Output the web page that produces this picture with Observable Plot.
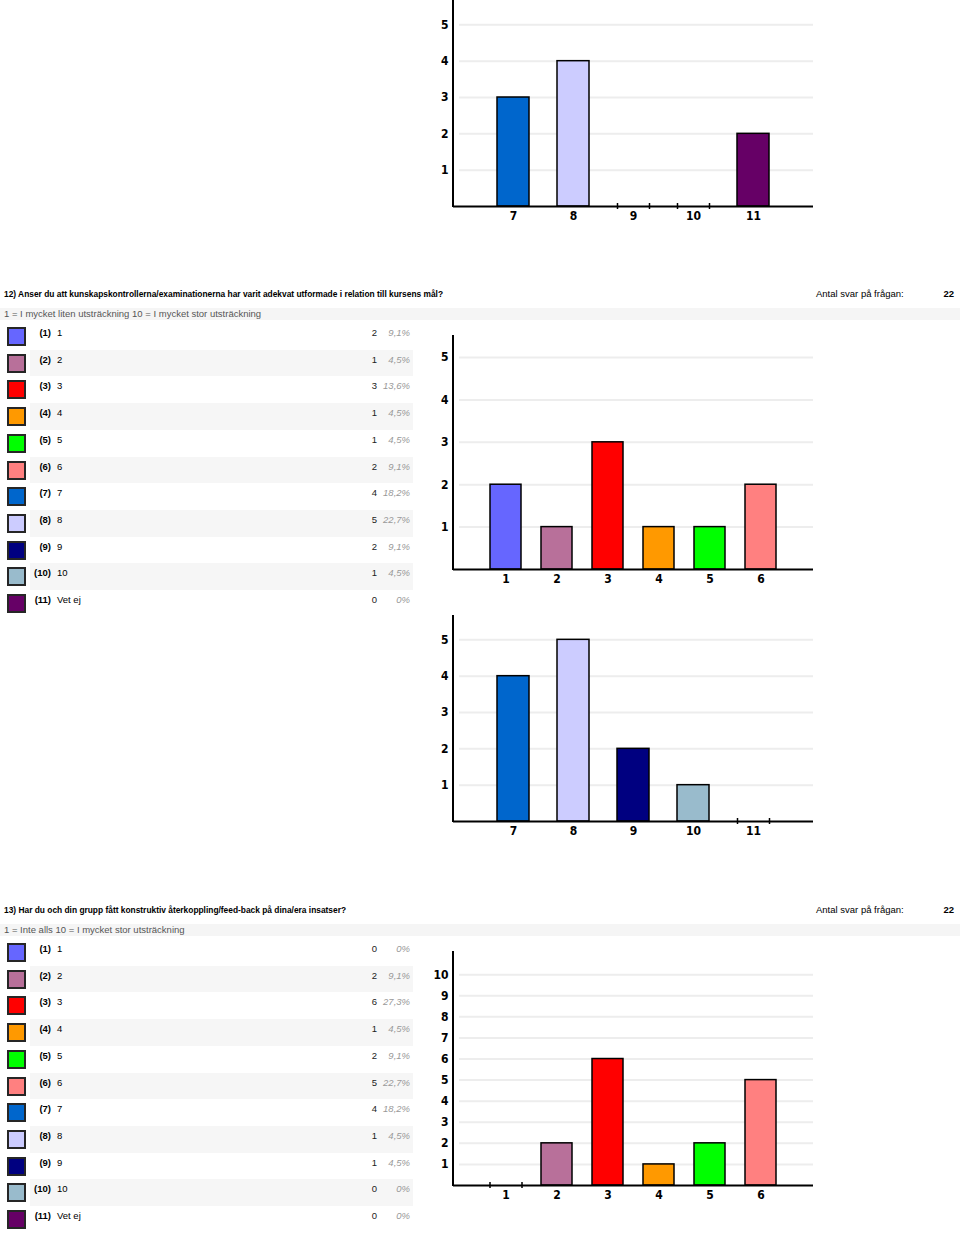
<!DOCTYPE html>
<html><head><meta charset="utf-8">
<script src="https://cdn.jsdelivr.net/npm/d3@7"></script>
<script src="https://cdn.jsdelivr.net/npm/@observablehq/plot@0.6"></script>
<style>
html,body{margin:0;padding:0;background:#fff}
body{width:960px;height:1235px;position:relative;overflow:hidden;font-family:"Liberation Sans",Arial,sans-serif;color:#000}
.a{position:absolute;white-space:nowrap;font-size:9.5px;line-height:12px;height:12px}
.b{font-weight:bold}
.h{font-size:8.4px}
.band{position:absolute}
.sw{position:absolute;width:19px;height:19px;box-sizing:border-box;border:2px solid #262626}
.chart{position:absolute;left:430px}
</style></head><body>
<script>
// ---- data ----
const optionColors = ["#6666ff","#b8709a","#ff0000","#ff9900","#00ff00","#ff8080","#0066cc","#ccccff","#000080","#99bbcc","#660066"];
const optionLabels = ["1","2","3","4","5","6","7","8","9","10","Vet ej"];
const chartCatsLow = ["1","2","3","4","5","6"];
const chartCatsHigh = ["7","8","9","10","11"];

// Q11 (only its second chart is visible at the top of the page)
const q11HighCounts = [3,4,0,0,2];

const q12Title = "12) Anser du att kunskapskontrollerna/examinationerna har varit adekvat utformade i relation till kursens mål?";
const q12Scale = "1 = I mycket liten utsträckning 10 = I mycket stor utsträckning";
const q12Counts = [2,1,3,1,1,2,4,5,2,1,0];
const q12Total = 22;

const q13Title = "13) Har du och din grupp fått konstruktiv återkoppling/feed-back på dina/era insatser?";
const q13Scale = "1 = Inte alls 10 = I mycket stor utsträckning";
const q13Counts = [0,2,6,1,2,5,4,1,1,0,0];
const q13Total = 22;

const answersLabel = "Antal svar på frågan:";

// ---- helpers ----
const fmtPct = (c, t) => c === 0 ? "0%" : (Math.round(c / t * 1000) / 10).toFixed(1).replace(".", ",") + "%";

function text(str, x, yc, opts = {}) {
  const d = document.createElement("div");
  d.className = "a" + (opts.bold ? " b" : "") + (opts.cls ? " " + opts.cls : "");
  d.textContent = str;
  d.style.top = (yc - 6) + "px";
  if (opts.right != null) { d.style.right = (960 - opts.right) + "px"; d.style.textAlign = "right"; }
  else d.style.left = x + "px";
  if (opts.color) d.style.color = opts.color;
  if (opts.italic) d.style.fontStyle = "italic";
  document.body.appendChild(d);
  return d;
}
function band(x, y, w, h, c) {
  const d = document.createElement("div");
  d.className = "band";
  Object.assign(d.style, {left: x + "px", top: y + "px", width: w + "px", height: h + "px", background: c});
  document.body.appendChild(d);
}

function leftAxisLine(index, scales, values, dims) {
  const ns = "http://www.w3.org/2000/svg";
  const l = document.createElementNS(ns, "line");
  const x = dims.marginLeft;
  l.setAttribute("x1", x); l.setAttribute("x2", x);
  l.setAttribute("y1", 0); l.setAttribute("y2", dims.height - dims.marginBottom + 1);
  l.setAttribute("stroke", "#000"); l.setAttribute("stroke-width", 2);
  return l;
}

function barChart({cats, counts, colors, ymax, ticks, height, marginBottom, padIn, padOut, top}) {
  const data = cats.map((c, i) => ({cat: c, v: counts[i], color: colors[i]}));
  const zeros = data.filter(d => d.v === 0);
  const svg = Plot.plot({
    width: 400, height, marginLeft: 23, marginRight: 17, marginTop: 0, marginBottom,
    style: {fontFamily: "'Liberation Sans Narrow','DejaVu Sans Condensed','Liberation Sans',sans-serif", fontWeight: "bold", fontSize: "12px", background: "transparent", overflow: "visible", color: "#000"},
    x: {domain: cats, paddingInner: padIn, paddingOuter: padOut, tickSize: 0, tickPadding: 5, label: null},
    y: {domain: [0, ymax], ticks, tickSize: 0, tickPadding: 5, label: null, tickFormat: d => String(d)},
    marks: [
      Plot.ruleY(ticks, {stroke: "#ededed", strokeWidth: 2, insetLeft: 6}),
      Plot.barY(data.filter(d => d.v > 0), {x: "cat", y: "v", fill: d => d.color, stroke: "#000", strokeWidth: 1.5}),
      Plot.ruleY([0], {stroke: "#000", strokeWidth: 2}),
      Plot.ruleX(zeros, {x: "cat", y1: 0, y2: 0, insetTop: -3, insetBottom: -3, dx: -16, stroke: "#000", strokeWidth: 1.5}),
      Plot.ruleX(zeros, {x: "cat", y1: 0, y2: 0, insetTop: -3, insetBottom: -3, dx: 16, stroke: "#000", strokeWidth: 1.5}),
      leftAxisLine
    ]
  });
  const wrap = document.createElement("div");
  wrap.className = "chart";
  wrap.style.top = top + "px";
  wrap.appendChild(svg);
  document.body.appendChild(wrap);
}

function question(y0, title, scale, counts, total, lowChart, highChart) {
  text(title, 4, y0, {bold: true, cls: "h"});
  text(answersLabel, 816, y0);
  text(String(total), 0, y0, {bold: true, right: 954});
  band(0, y0 + 14, 960, 12, "#f5f5f5");
  text(scale, 4, y0 + 20, {color: "#555"});
  const step = 26.7;
  counts.forEach((c, i) => {
    const top = y0 + 29 + i * step;
    if (i % 2 === 1) band(30, top, 383, step, "#f6f6f6");
    const sw = document.createElement("div");
    sw.className = "sw";
    sw.style.left = "7px"; sw.style.top = (top + 4) + "px"; sw.style.background = optionColors[i];
    document.body.appendChild(sw);
    const yc = top + 10;
    text("(" + (i + 1) + ")", 0, yc, {bold: true, right: 51});
    text(optionLabels[i], 57, yc);
    text(String(c), 0, yc, {right: 377, color: "#222"});
    text(fmtPct(c, total), 0, yc, {right: 410, italic: true, color: "#999"});
  });
  if (lowChart) barChart({cats: chartCatsLow, counts: counts.slice(0, 6), colors: optionColors.slice(0, 6),
    height: 260, marginBottom: 26, padIn: 0.385, padOut: 0.66, top: y0 + 41, ...lowChart});
  if (highChart) barChart({cats: chartCatsHigh, counts: counts.slice(6), colors: optionColors.slice(6),
    height: 230, marginBottom: 24, padIn: 0.47, padOut: 0.735, top: y0 + 321, ...highChart});
}

// Q11 tail chart at top
barChart({cats: chartCatsHigh, counts: q11HighCounts, colors: optionColors.slice(6), ymax: 5.67, ticks: [1,2,3,4,5],
  height: 230, marginBottom: 24, padIn: 0.47, padOut: 0.735, top: 0});

question(294, q12Title, q12Scale, q12Counts, q12Total,
  {ymax: 5.52, ticks: [1,2,3,4,5]}, {ymax: 5.67, ticks: [1,2,3,4,5]});
question(910, q13Title, q13Scale, q13Counts, q13Total,
  {ymax: 11.1, ticks: [1,2,3,4,5,6,7,8,9,10]}, null);
</script>
</body></html>
